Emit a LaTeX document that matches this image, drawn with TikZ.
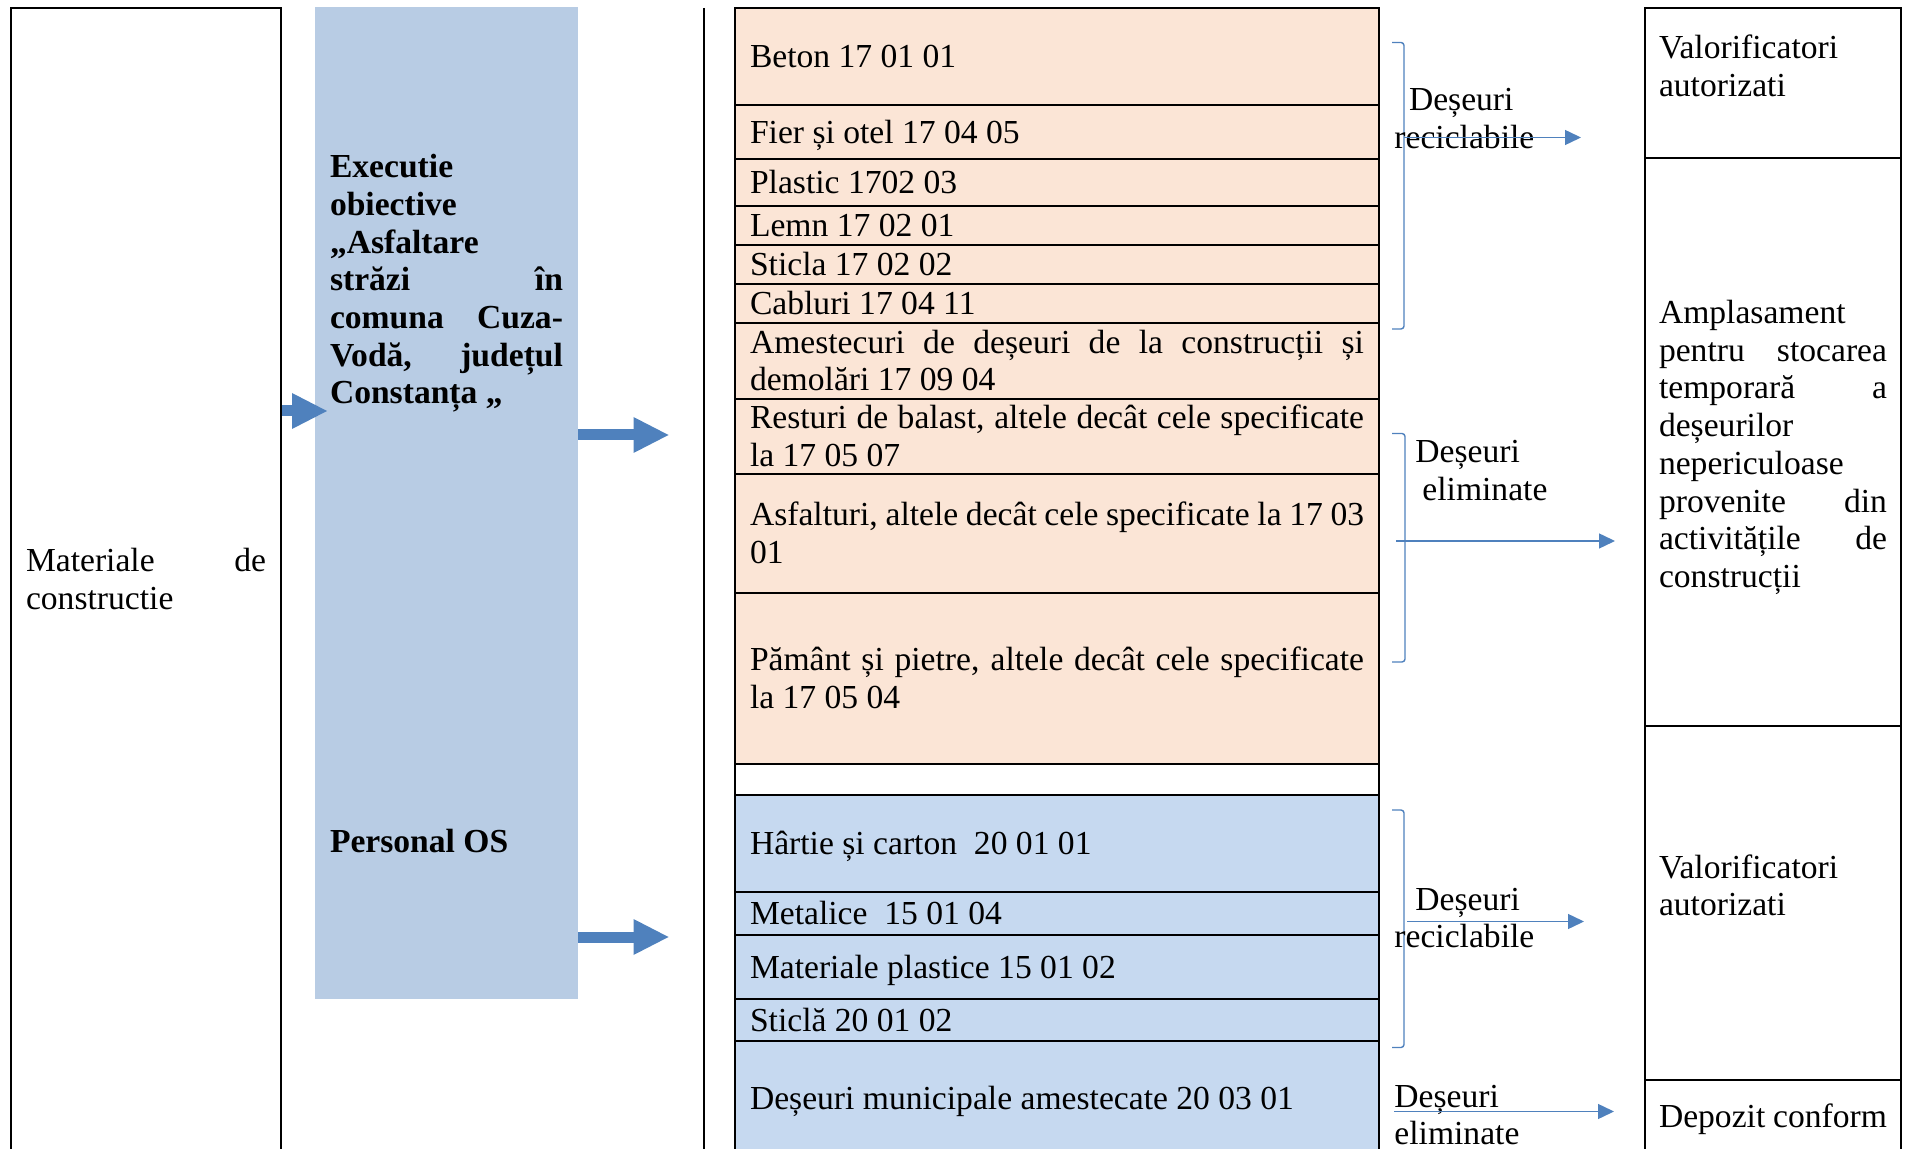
\documentclass[tikz,border=0pt]{standalone}
\usepackage{fontspec}
\setmainfont{Liberation Serif}
\usetikzlibrary{arrows.meta}
\definecolor{peach}{RGB}{251,229,214}
\definecolor{paleblue}{RGB}{198,217,240}
\definecolor{stepblue}{RGB}{184,204,228}
\definecolor{arrowblue}{RGB}{79,129,189}
\newcommand{\rowfont}{\fontsize{16.8pt}{18.85pt}\selectfont}
\newcommand{\cellstrut}{\rule[-3.85pt]{0pt}{18.85pt}}
\newcommand{\framewd}{.9pt}
\hyphenpenalty=10000

\begin{document}
\begin{tikzpicture}[x=.5pt,y=-.5pt,
    cellbox/.style={draw, line width=\framewd, minimum width=322pt, inner sep=0pt},
    wastecell/.style={cellbox, text width=307pt, inner xsep=7.5pt, align=justify,
      font=\rowfont, execute at begin node=\cellstrut, execute at end node=\cellstrut},
    destcell/.style={draw, line width=\framewd, minimum width=128pt, text width=114pt,
      inner xsep=7pt, inner ysep=0pt, align=justify, font=\rowfont},
    stepbox/.style={fill=stepblue, minimum width=131.5pt, text width=116.5pt,
      inner xsep=7.5pt, inner ysep=0pt, align=justify, font=\rowfont\bfseries},
    flowlabel/.style={anchor=base west, inner sep=0pt, text width=80pt, align=left, font=\rowfont},
    blockarrow/.style={draw=arrowblue, line width=5.5pt, -{Triangle[length=17.5pt,width=18pt,line width=0pt]}},
    flowarrow/.style={draw=arrowblue, line width=.7pt, -{Triangle[length=8pt,width=7.5pt]}},
    brace/.style={draw=arrowblue, line width=.7pt, rounded corners=1.5pt}]
  \useasboundingbox (0,0) rectangle (1907,1149);
  \clip (0,0) rectangle (1907,1149);

  % source and activity
  \node (mat) at (146,579.5) [draw, line width=\framewd, minimum width=135pt, minimum height=571.5pt,
      text width=120pt, inner xsep=7.5pt, inner ysep=0pt, align=justify, font=\rowfont,
      execute at begin node=\cellstrut, execute at end node=\cellstrut] {Materiale de\linebreak constructie};
  \node (exec) at (446.5,503) [stepbox, minimum height=496pt, text height=85.4pt, text depth=410.6pt]
      {Executie\newline obiective\newline „Asfaltare\newline străzi în\linebreak comuna Cuza-\linebreak Vodă, județul\linebreak Constanța „};
  \node (pers) at (329.6,852.5) [anchor=base west, inner sep=0pt, font=\rowfont\bfseries] {Personal OS};
  \draw[line width=\framewd] (704,8) -- (704,1160);

  % waste codes
  \node (beton) at (1057,56.5) [wastecell, fill=peach, minimum height=48.5pt] {Beton 17 01 01};
  \node (fier) at (1057,132) [wastecell, fill=peach, minimum height=27pt] {Fier și otel 17 04 05};
  \node (plastic) at (1057,182.5) [wastecell, fill=peach, minimum height=23.5pt] {Plastic 1702 03};
  \node (lemn) at (1057,225.5) [wastecell, fill=peach, minimum height=19.5pt] {Lemn 17 02 01};
  \node (sticla) at (1057,264.5) [wastecell, fill=peach, minimum height=19.5pt] {Sticla 17 02 02};
  \node (cabluri) at (1057,303.5) [wastecell, fill=peach, minimum height=19.5pt] {Cabluri 17 04 11};
  \node (amestec) at (1057,361) [wastecell, fill=peach, minimum height=38pt] {Amestecuri de deșeuri de la construcții și\linebreak demolări 17 09 04};
  \node (balast) at (1057,436.5) [wastecell, fill=peach, minimum height=37.5pt] {Resturi de balast, altele decât cele specificate\linebreak la 17 05 07};
  \node (asfalt) at (1057,533.5) [wastecell, fill=peach, minimum height=59.5pt] {Asfalturi, altele decât cele specificate la 17 03\linebreak 01};
  \node (pamant) at (1057,678.5) [wastecell, fill=peach, minimum height=85.5pt] {Pământ și pietre, altele decât cele specificate\linebreak la 17 05 04};
  \node (gol) at (1057,779.5) [cellbox, fill=white, minimum height=15.5pt] {};
  \node (hartie) at (1057,843.5) [wastecell, fill=paleblue, minimum height=48.5pt] {Hârtie și carton\ \ 20 01 01};
  \node (metal) at (1057,913.5) [wastecell, fill=paleblue, minimum height=21.5pt] {Metalice\ \ 15 01 04};
  \node (plastice) at (1057,967) [wastecell, fill=paleblue, minimum height=32pt] {Materiale plastice 15 01 02};
  \node (sticla2) at (1057,1020) [wastecell, fill=paleblue, minimum height=21pt] {Sticlă 20 01 02};
  \node (municip) at (1057,1098) [wastecell, fill=paleblue, minimum height=57pt] {Deșeuri municipale amestecate 20 03 01};

  % destinations
  \node (valor1) at (1773,83) [destcell, minimum height=75pt, text height=25.2pt, text depth=49.8pt] {Valorificatori\newline autorizati};
  \node (stoc) at (1773,442) [destcell, minimum height=284pt, text height=82.8pt, text depth=201.2pt]
      {Amplasament\newline pentru stocarea\linebreak temporară a\linebreak deșeurilor\newline nepericuloase\newline provenite din\linebreak activitățile de\linebreak construcții};
  \node (valor2) at (1773,903) [destcell, minimum height=177pt, text height=76.1pt, text depth=100.9pt] {Valorificatori\newline autorizati};
  \node (depozit) at (1773,1120) [destcell, minimum height=40pt, text height=23.75pt, text depth=16.25pt] {Depozit conform};

  % block arrows
  \coordinate (tip1) at (327,411);
  \coordinate (tip2) at (668.5,435);
  \coordinate (tip3) at (668.5,937);
  \draw[blockarrow] (mat.east |- tip1) -- (tip1);
  \draw[blockarrow] (exec.east |- tip2) -- (tip2);
  \draw[blockarrow] (exec.east |- tip3) -- (tip3);

  % groups
  \draw[brace] (1392,42.5) -- (1404,42.5) -- (1404,329) -- (1392,329);
  \draw[brace] (1392,433.5) -- (1405,433.5) -- (1405,662) -- (1392,662);
  \draw[brace] (1392,810) -- (1404,810) -- (1404,1047.5) -- (1392,1047.5);
  \node (lab1) at (1394,110.5) [flowlabel] {\hspace*{7.3pt}Deșeuri\newline reciclabile};
  \node (lab2) at (1415,463) [flowlabel] {Deșeuri\newline\hspace*{3.5pt}eliminate};
  \node (lab3) at (1394,910) [flowlabel] {\hspace*{10.5pt}Deșeuri\newline reciclabile};
  \node (lab4) at (1394,1107) [flowlabel] {Deșeuri\newline eliminate};
  \coordinate (r1) at (1404,137.5);
  \coordinate (e1) at (1581,137.5);
  \coordinate (r2) at (1396,541);
  \coordinate (e2) at (1615,541);
  \coordinate (r3) at (1407,921.5);
  \coordinate (e3) at (1584,921.5);
  \coordinate (r4) at (1394,1111.5);
  \coordinate (e4) at (1614,1111.5);
  \draw[flowarrow] (r1) -- (e1);
  \draw[flowarrow] (r2) -- (e2);
  \draw[flowarrow] (r3) -- (e3);
  \draw[flowarrow] (r4) -- (e4);
\end{tikzpicture}
\end{document}
